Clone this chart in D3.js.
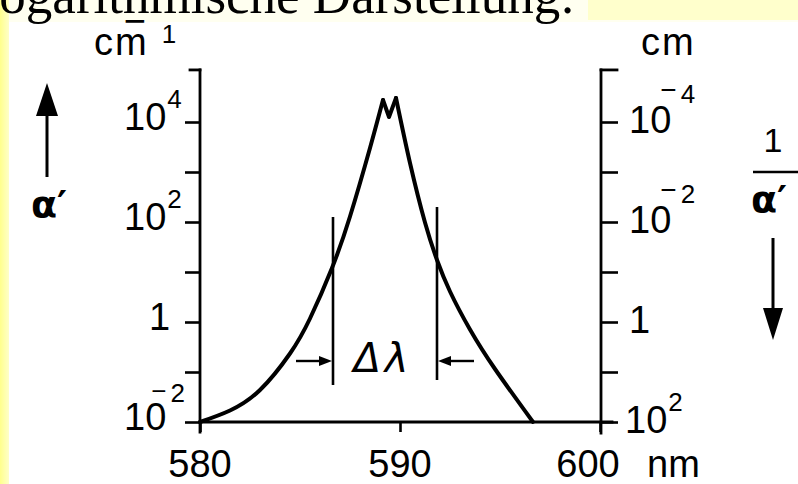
<!DOCTYPE html>
<html><head><meta charset="utf-8">
<script src="https://cdn.jsdelivr.net/npm/d3@7"></script>
<style>body{margin:0;background:#fff} svg{display:block}</style>
</head><body><svg id="c" width="798" height="484"></svg>
<script>
// ---- data ----
const wavelengthNm = [580.0, 581.5, 583.0, 584.5, 585.5, 586.6, 587.5, 588.5, 589.15, 589.45, 589.8, 590.5, 591.25, 591.85, 592.5, 593.5, 594.75, 596.65];
const log10Alpha   = [-2.0, -1.77, -1.36, -0.63, 0.07, 1.08, 2.11, 3.48, 4.44, 4.1, 4.48, 3.18, 1.99, 1.24, 0.61, -0.15, -0.94, -2.0];
const peakLeftIndex = 8, peakRightIndex = 10;
const xTickValues = [580, 590, 600];
const xTickLabels = ["580", "590", "600"];
const yTickValues = [1e-2, 1e-1, 1, 1e1, 1e2, 1e3, 1e4];
const labelValues = [1e-2, 1, 1e2, 1e4];
const leftLabelBase = ["10", "1", "10", "10"];
const leftLabelExp  = ["−2", "", "2", "4"];
const rightLabelBase = ["10", "1", "10", "10"];
const rightLabelExp  = ["2", "", "−2", "−4"];
const axisTopValue = 1.1e5;
const markerNm = [586.65, 591.85];
const markerTopLog = [2.1, 2.3];
const markerBottomLog = [-1.26, -1.16];
const arrowLog = -0.78;

// ---- setup ----
const svg = d3.select("#c");
const x = d3.scaleLinear().domain([580, 600]).range([200, 600]);
const y = d3.scaleLog().domain([1e-2, 1e4]).range([422, 122]);
const FONT = "'Liberation Sans', Arial, sans-serif";

// background pieces
svg.append("rect").attr("x",0).attr("y",0).attr("width",798).attr("height",484).attr("fill","#fff");
const grad = svg.append("defs").append("linearGradient").attr("id","ystrip").attr("x1","0").attr("x2","1");
grad.append("stop").attr("offset","0").attr("stop-color","#ffff8c");
grad.append("stop").attr("offset","1").attr("stop-color","#ffffc8");
svg.append("rect").attr("x",0).attr("y",0).attr("width",9).attr("height",484).attr("fill","url(#ystrip)");
svg.append("rect").attr("x",9).attr("y",0).attr("width",789).attr("height",22).attr("fill","#fffff0");
svg.append("rect").attr("x",588).attr("y",0).attr("width",210).attr("height",20).attr("fill","#ffffcc");
svg.append("text").attr("x",-33).attr("y",13).attr("font-family","'Liberation Serif', 'Times New Roman', serif")
  .attr("font-size",53).attr("fill","#000").text("Logarithmische Darstellung:");

// ---- axes ----
const left = svg.append("g").attr("transform","translate(200,0)")
  .call(d3.axisLeft(y).tickValues(yTickValues).tickSize(15).tickSizeOuter(0).tickFormat(""));
const right = svg.append("g").attr("transform","translate(601,0)")
  .call(d3.axisRight(y).tickValues(yTickValues).tickSize(17).tickSizeOuter(0).tickFormat(""));
const bottom = svg.append("g").attr("transform","translate(0,422)")
  .call(d3.axisBottom(x).tickValues(xTickValues).tickSize(10).tickSizeOuter(0).tickFormat(""));
[left,right,bottom].forEach(g=>{
  g.select(".domain").remove();
  g.selectAll(".tick line").attr("stroke","#000").attr("stroke-width",2.6);
});
const axisLine = (x1,y1,x2,y2)=>svg.append("line").attr("x1",x1).attr("y1",y1).attr("x2",x2).attr("y2",y2)
  .attr("stroke","#000").attr("stroke-width",2.8).attr("stroke-linecap","square");
const yTop = y(axisTopValue), yBot = y(1e-2);
axisLine(x(580), yBot+10, x(580), yTop);
axisLine(x(580)-10, yTop, x(580), yTop);
axisLine(x(600)+1, yBot+11, x(600)+1, yTop);
axisLine(x(600)+1, yTop, x(600)+17, yTop);
axisLine(x(580), yBot, x(600)+12, yBot);

// ---- curve ----
const pts = wavelengthNm.map((w,i)=>[x(w), y(Math.pow(10, log10Alpha[i]))]);
const smooth = d3.line().curve(d3.curveNatural);
const straight = d3.line();
const curveStyle = p=>p.attr("fill","none").attr("stroke","#000").attr("stroke-width",4).attr("stroke-linejoin","round").attr("stroke-linecap","round");
curveStyle(svg.append("path").attr("d", smooth(pts.slice(0, peakLeftIndex+1))));
curveStyle(svg.append("path").attr("d", straight(pts.slice(peakLeftIndex, peakRightIndex+1))));
curveStyle(svg.append("path").attr("d", smooth(pts.slice(peakRightIndex))));

// ---- markers ----
markerNm.forEach((m,i)=>{
  svg.append("line").attr("x1",x(m)).attr("x2",x(m))
    .attr("y1",y(Math.pow(10,markerTopLog[i]))).attr("y2",y(Math.pow(10,markerBottomLog[i])))
    .attr("stroke","#000").attr("stroke-width",2.6);
});
const ay = y(Math.pow(10,arrowLog));
function hArrow(tipX, dir){ // dir +1 points right
  const tail = tipX - dir*36, headBase = tipX - dir*13;
  svg.append("line").attr("x1",tail).attr("x2",headBase).attr("y1",ay).attr("y2",ay).attr("stroke","#000").attr("stroke-width",2.4);
  svg.append("path").attr("d",`M${tipX},${ay} L${headBase},${ay-5} L${headBase},${ay+5} Z`).attr("fill","#000");
}
hArrow(x(markerNm[0])-1, 1);
hArrow(x(markerNm[1])+1, -1);
svg.append("text").attr("x",(x(markerNm[0])+x(markerNm[1]))/2 - 2).attr("y",ay+11).attr("text-anchor","middle")
  .attr("font-family","'DejaVu Sans', sans-serif").attr("font-style","italic").attr("font-size",40)
  .attr("letter-spacing",4).attr("fill","#000")
  .text("Δλ");

// ---- tick labels ----
function label(xPos, yPos, base, exp, s){
  const t = svg.append("text").attr("x",xPos).attr("y",yPos).attr("font-family",FONT).attr("font-size",38).attr("fill","#000");
  t.append("tspan").text(base);
  if(exp.startsWith("−")){
    t.append("tspan").attr("font-size",s.msize).attr("dx",s.mdx).attr("dy",s.mdy).text("−");
    t.append("tspan").attr("font-size",26).attr("dx",s.ddx).attr("dy",s.ddy).text(exp.slice(1));
  } else if(exp){
    t.append("tspan").attr("font-size",26).attr("dx",1).attr("dy",-22).text(exp);
  }
}
labelValues.forEach((v,i)=>{
  const ly = y(v)+8;
  label(leftLabelBase[i]==="1" ? 149 : 124, ly, leftLabelBase[i], leftLabelExp[i], {msize:26, mdx:-15, mdy:-30, ddx:4, ddy:2});
  const ry = y(v)+11;
  label(i===0 ? 625 : 629, ry, rightLabelBase[i], rightLabelExp[i], {msize:28, mdx:-11, mdy:-34, ddx:4, ddy:4});
});
xTickValues.forEach((v,i)=>{
  svg.append("text").attr("x", x(v) - (i===2?12:0)).attr("y",477).attr("text-anchor","middle")
    .attr("font-family",FONT).attr("font-size",38).attr("fill","#000").text(xTickLabels[i]);
});
svg.append("text").attr("x",x(600)+47).attr("y",477).attr("font-family",FONT).attr("font-size",38).attr("fill","#000").text("nm");

// ---- unit labels ----
const cmInv = svg.append("text").attr("x",94).attr("y",55).attr("font-family",FONT).attr("font-size",38).attr("fill","#000");
cmInv.append("tspan").attr("letter-spacing",2).text("cm");
cmInv.append("tspan").attr("dx",-25).attr("dy",-21).text("−");
cmInv.append("tspan").attr("font-size",26).attr("dx",16).attr("dy",9).text("1");
svg.append("text").attr("x",641).attr("y",55).attr("font-family",FONT).attr("font-size",38).attr("letter-spacing",2).attr("fill","#000").text("cm");

// ---- axis titles ----
svg.append("line").attr("x1",47).attr("x2",47).attr("y1",177).attr("y2",110).attr("stroke","#000").attr("stroke-width",3);
svg.append("path").attr("d","M47,83 L36,116 L58,116 Z").attr("fill","#000");
svg.append("text").attr("x",31).attr("y",217).attr("font-family","'DejaVu Sans', sans-serif").attr("font-weight","bold").attr("font-size",38).attr("fill","#000").text("α′");

svg.append("text").attr("x",773).attr("y",152).attr("text-anchor","middle").attr("font-family",FONT).attr("font-size",34).attr("fill","#000").text("1");
svg.append("line").attr("x1",753).attr("x2",800).attr("y1",172).attr("y2",172).attr("stroke","#000").attr("stroke-width",2.5);
svg.append("text").attr("x",751).attr("y",212).attr("font-family","'DejaVu Sans', sans-serif").attr("font-weight","bold").attr("font-size",38).attr("fill","#000").text("α′");
svg.append("line").attr("x1",773).attr("x2",773).attr("y1",238).attr("y2",315).attr("stroke","#000").attr("stroke-width",3);
svg.append("path").attr("d","M773,340 L763,308 L783,308 Z").attr("fill","#000");
</script></body></html>
